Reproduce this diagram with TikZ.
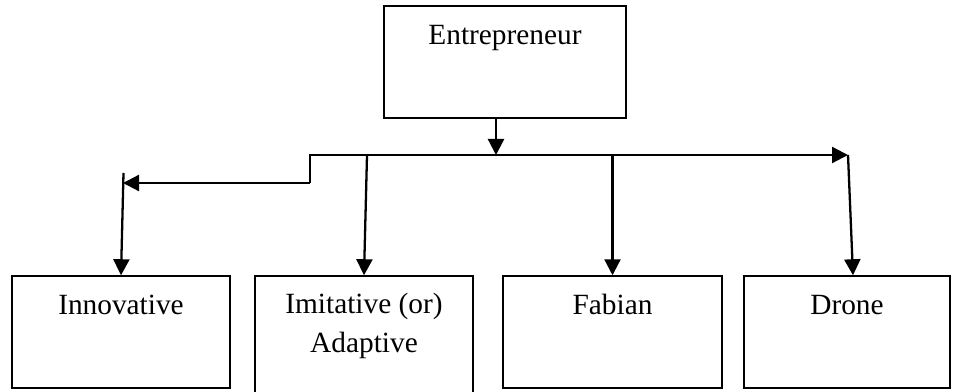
\documentclass[tikz,border=0pt]{standalone}
\usepackage{fontspec}
\setmainfont{Liberation Serif}
\usetikzlibrary{
  arrows.meta,
  positioning
}

\tikzset{
  box/.style={draw, line width=0.85pt, minimum height=2.24cm, inner sep=0pt},
  lbl/.style={inner sep=0pt, align=center, font=\fontsize{16.7}{21.8}\selectfont,
    execute at begin node=\strut},
  arr/.style={line width=1.3pt, -{Triangle[length=0.32cm,width=0.32cm]}}
}

\begin{document}
\begin{tikzpicture}
  \def\Ytop{6.58};
  \def\Ybox{1.18};
  \def\Ybar{4.72};
  \def\Ystep{4.16};
  \useasboundingbox (0,0) rectangle (19.06,7.82);

        % boxes
        \node[box, minimum width=4.84cm] (ent) at (10.10, \Ytop) {};
        \node[lbl, below=0.24cm of ent.north] (entT) {Entrepreneur};

        \node[box, minimum width=4.36cm] (inno) at (2.42, \Ybox) {};
        \node[lbl, below=0.24cm of inno.north] (innoT) {Innovative};

        \node[box, minimum width=4.36cm, minimum height=2.40cm] (imit) at (7.28, 1.10) {};
        \node[lbl, below=0.36cm of imit.north] (imitT) {Imitative (or)\\Adaptive};

        \node[box, minimum width=4.38cm] (fab) at (12.25, \Ybox) {};
        \node[lbl, below=0.24cm of fab.north] (fabT) {Fabian};

        \node[box, minimum width=4.12cm] (drone) at (16.94, \Ybox) {};
        \node[lbl, below=0.24cm of drone.north] (droneT) {Drone};

        % bar
        \coordinate (j) at (9.92, \Ybar);
        \coordinate (barL) at (6.20, \Ybar);
        \coordinate (barR) at (16.96, \Ybar);
        \coordinate (stepL) at (6.20, \Ystep);
        \coordinate (innoIn) at (2.46, \Ystep);
        \coordinate (innoTop) at (2.47, 4.36);

	\draw[arr] (ent.south -| j) -- (j);
	\draw[arr] (stepL) -- (barL) -- (barR);
	\draw[arr] (stepL) -- (innoIn);

	\draw[arr] (innoTop) -- (inno.north);
	\draw[arr] ([xshift=0.06cm]imit.north |- j) -- (imit.north);
	\draw[arr] (fab.north |- j) -- (fab.north);
	\draw[arr] (barR) -- ([xshift=0.12cm]drone.north);

\end{tikzpicture}
\end{document}
